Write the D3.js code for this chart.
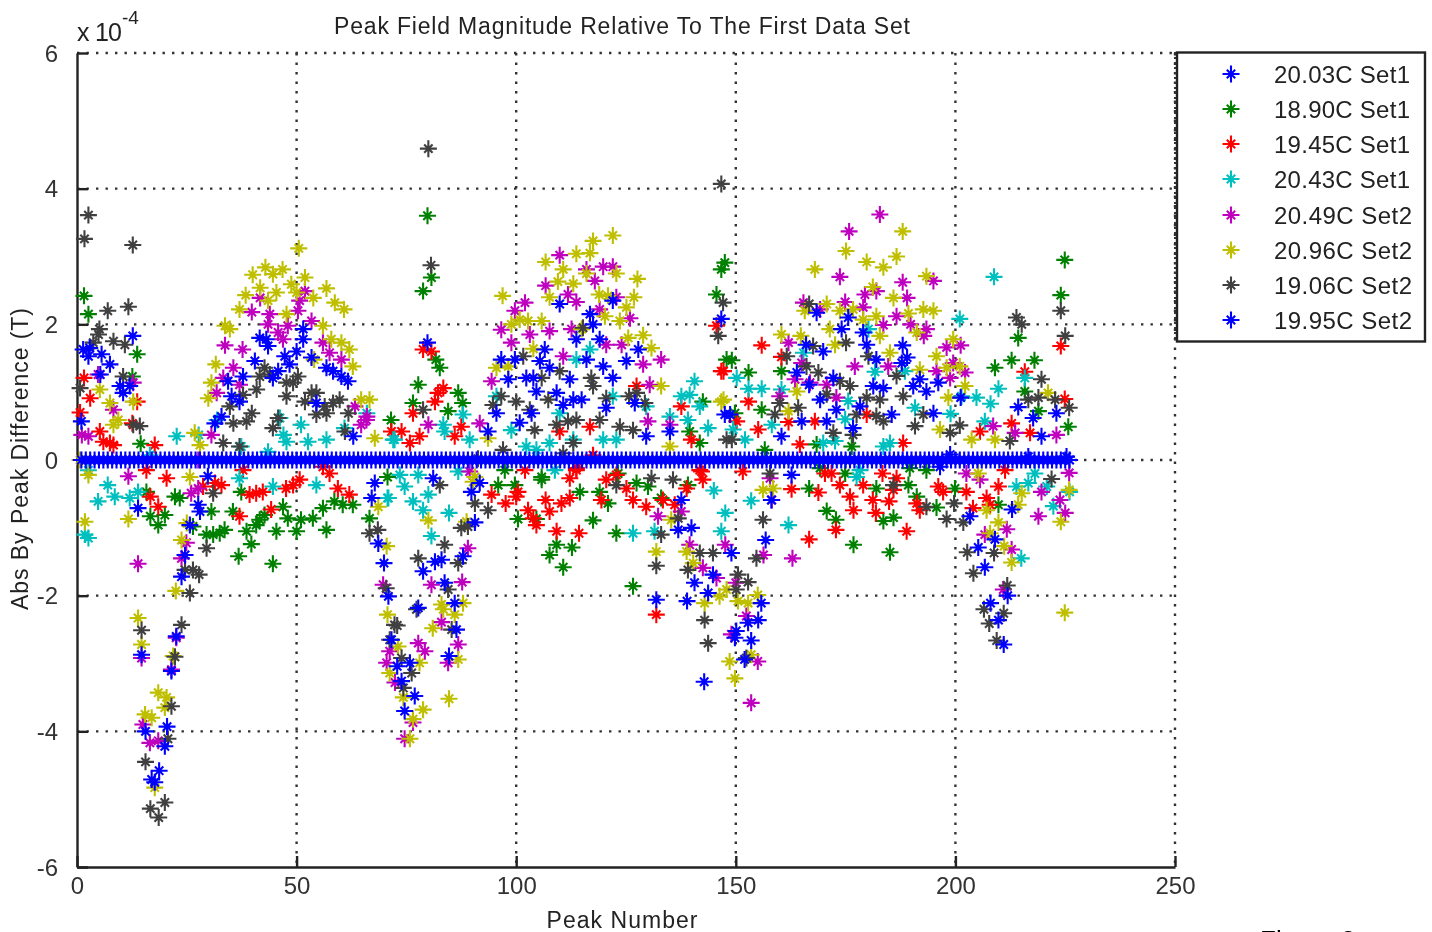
<!DOCTYPE html>
<html><head><meta charset="utf-8">
<script src="https://cdn.jsdelivr.net/npm/d3@7/dist/d3.min.js"></script>
<style>html,body{margin:0;padding:0;background:#fff;overflow:hidden}svg{display:block}text{font-family:"Liberation Sans",Arial,sans-serif;fill:#333}</style>
</head><body><svg id="c" width="1432" height="932"></svg>
<script>
const legendLabels = ["20.03C Set1","18.90C Set1","19.45C Set1","20.43C Set1","20.49C Set2","20.96C Set2","19.06C Set2","19.95C Set2"];
const seriesColors = ["#0000ff","#008000","#ff0000","#00bfbf","#bf00bf","#bfbf00","#404040","#0000ff"];
const xTicks = [0,50,100,150,200,250];
const yTicks = [-6,-4,-2,0,2,4,6];

// 20.03C Set1 is the reference set: zero difference at every peak 1..226
const s1zero = [
0,0,0,0,0,0,0,0,0,0,0,0,0,0,0,0,0,0,0,0,0,0,0,0,0,0,0,0,0,0,0,0,0,0,0,0,0,0,0,0,
0,0,0,0,0,0,0,0,0,0,0,0,0,0,0,0,0,0,0,0,0,0,0,0,0,0,0,0,0,0,0,0,0,0,0,0,0,0,0,0,
0,0,0,0,0,0,0,0,0,0,0,0,0,0,0,0,0,0,0,0,0,0,0,0,0,0,0,0,0,0,0,0,0,0,0,0,0,0,0,0,
0,0,0,0,0,0,0,0,0,0,0,0,0,0,0,0,0,0,0,0,0,0,0,0,0,0,0,0,0,0,0,0,0,0,0,0,0,0,0,0,
0,0,0,0,0,0,0,0,0,0,0,0,0,0,0,0,0,0,0,0,0,0,0,0,0,0,0,0,0,0,0,0,0,0,0,0,0,0,0,0,
0,0,0,0,0,0,0,0,0,0,0,0,0,0,0,0,0,0,0,0,0,0,0,0,0,0];

const s2green = [[1.6,2.42],[2.6,2.15],[13.7,1.56],[12.6,1.23],[14.5,.24],[71.5,.59],[15.8,-.47],[16.7,-.83],[18.5,-.96],[20,-.81],[22.3,-.54],[23.4,-.56],[30.6,-.76],[26.4,-.98],[35.5,-.76],[37.4,-.47],[29.5,-1.1],[31,-1.1],[32.5,-1.08],[33.6,-1.03],[38.6,-1.05],[40.8,-.96],[41.6,-.88],[42.7,-.81],[39.7,-1.24],[36.8,-1.42],[44.6,-1.53],[45.4,-1.05],[46.9,-.69],[48,-.86],[50,-1.05],[51,-.88],[53.7,-.86],[56,-.71],[56.8,-1.03],[58.6,-.61],[60.5,-.66],[62.8,-.66],[66.6,-.86],[70.7,-.25],[79.8,3.6],[80.7,2.69],[78.8,2.49],[77.7,1.11],[76.5,.84],[82.6,1.36],[81.7,1.48],[86.8,.99],[87.8,.84],[84.5,.72],[147.5,2.91],[146.7,2.81],[145.6,2.44],[147.9,1.48],[142.5,.86],[139.5,.42],[141.8,.25],[97.4,-.15],[105.8,-.25],[95.9,-.37],[99.7,-.37],[105.8,-.29],[100.4,-.87],[104.6,-.87],[109.2,-1.25],[107.6,-1.4],[110.7,-1.58],[112.7,-1.29],[117.5,-.89],[114.5,-.47],[119,-.47],[120.9,-.64],[122.8,-1.08],[123.2,-.2],[126.6,-1.86],[127.4,-.34],[130,-.39],[133,-.56],[139.1,-.37],[149.1,1.47],[152.9,1.29],[160.4,1.31],[149.8,.69],[155.9,.74],[209,1.36],[212.8,1.47],[218,1.47],[214.3,1.8],[215.8,1.01],[224.9,2.95],[224,2.43],[225.7,.49],[218.9,.72],[176.4,.2],[168.4,.23],[156.6,.15],[166.7,-.42],[170.7,-.75],[172.8,-.88],[176.8,-1.25],[182,-.42],[183.6,-.9],[185.9,-.85],[185.1,-1.36],[189.3,-.37],[191.2,-.54],[195.7,-.7],[199.9,-.42],[209.8,-.66],[174.9,-.2],[169.2,-.12],[189.6,-.12],[193.4,-.15]];

const s3red = [[1.6,1.21],[.7,.7],[3,.91],[13.7,.86],[12.6,.54],[5.2,.42],[7.5,.25],[6,.27],[8.3,.22],[17.7,.22],[71.6,.42],[15.8,-.15],[20.4,-.27],[16.7,-.54],[18.5,-.69],[28.7,-.39],[31.4,-.34],[32.9,-.37],[37,-.83],[37.8,-.15],[40.8,-.49],[39.3,-.51],[42.3,-.47],[44.2,-.73],[47.6,-.42],[49.2,-.37],[50.7,-.29],[56,-.1],[57.5,-.2],[59.4,-.42],[62,-.51],[78.8,1.63],[80.7,1.6],[83.4,1.06],[82.2,.99],[81.5,.86],[76.5,.69],[73.9,.42],[75.8,.25],[78,.35],[86,.35],[87.5,.49],[116.8,.49],[109.9,.42],[137.6,.79],[139.9,.3],[146.7,1.31],[145.6,1.98],[127.4,1.09],[117.5,.07],[113.7,-.12],[102,-.15],[141.8,-.15],[94.4,-.51],[97.6,-.64],[100.4,-.47],[100,-.54],[102.7,-.74],[103.9,-.86],[104.6,-.96],[106.7,-.59],[107.6,-.76],[110.3,-.64],[112.2,-.56],[109.2,-1.05],[114.3,-1.08],[112.2,-.27],[113.7,-.15],[119.4,-.59],[120.5,-.29],[122.8,-.22],[125.1,-.42],[126.6,-.59],[129.6,-.69],[133.4,-.59],[136.1,-.66],[138.8,-.42],[142.5,-.29],[142.2,-.17],[131.9,-2.28],[151.6,-.17],[155.9,1.69],[160.4,1.52],[152.9,.86],[155.1,.45],[150.2,.57],[147.2,1.31],[162,.56],[168,.57],[164.6,.23],[179.8,.67],[188.1,.25],[215.8,1.3],[224.9,.9],[224,1.68],[212.8,.54],[205.6,.42],[217,.4],[162.7,-.43],[168.8,-.48],[170.3,-.2],[171.8,-.2],[173.7,-.37],[172.8,-1.03],[166.7,-1.17],[176,-.54],[176.8,-.74],[179,-.37],[181.2,-.59],[181.9,-.78],[183.4,-.2],[184.9,-.61],[185.9,-.44],[186.6,-.27],[188.9,-1.05],[191.2,-.64],[191.9,-.74],[196.1,-.39],[197.2,-.47],[202.5,-.47],[207.1,-.56],[207.9,-.66],[209.8,-.39],[211.3,-.15],[204,-.71]];

const s4cyan = [[31.9,.59],[27.7,.37],[22.7,.35],[46.2,.62],[47,.37],[51,.52],[52.6,.27],[56.8,.3],[60.9,.47],[66,.69],[72.3,.3],[16.6,.07],[37.4,.2],[43.5,.12],[47.7,.27],[2.6,-.15],[7,-.37],[4.8,-.61],[8.6,-.54],[12,-.56],[13.9,-.47],[2.6,-1.15],[1.8,-1.1],[37,-.27],[44.6,-.39],[70.7,-.56],[54.5,-.37],[140.6,1.16],[137.6,.94],[139.5,.96],[141.8,.79],[135,.64],[139.1,.59],[143.7,.47],[116.8,1.63],[113.7,1.48],[122,.94],[109.9,.69],[129.6,.79],[83.4,.52],[83.7,.42],[87.9,.67],[95.5,.94],[98.9,.44],[119.8,.3],[122.8,.3],[113,.3],[107.6,.25],[102.3,.2],[104.6,.15],[89.4,.3],[72,.3],[73.5,-.22],[77.7,-.22],[74.6,-.39],[70.9,-.56],[76.5,-.61],[80,-.51],[78.8,-.74],[84.7,-.78],[80.7,-1.12],[86.8,-.17],[108.8,-.15],[145,-.45],[147.6,-.78],[146.7,-1.05],[126.6,-1.08],[131.5,-1.05],[153.5,-.6],[201,2.08],[208.8,2.7],[215.8,1.21],[209.8,1.05],[204.8,.92],[208,.83],[201.4,.94],[198.9,.68],[206.7,.57],[190.8,.77],[188.5,1.31],[181.7,1.3],[150.2,1.21],[152.9,1.05],[155.9,1.05],[160.4,1.04],[158.2,.52],[149.4,.45],[152.1,.3],[165.4,1.58],[175.6,.87],[174.9,.6],[169.9,.25],[172.6,.28],[183.6,.2],[185.1,.25],[180.2,1.93],[162,-.96],[178.3,-.15],[177.5,-.25],[213.9,-.39],[216.6,-.34],[215,-1.45],[220.8,-.39],[222.3,-.68],[226,-.47],[218.1,-.2]];

const s5magenta = [[41.7,2.39],[39.8,2.18],[43.9,2.15],[43.5,2],[45.8,1.88],[48,1.98],[50.3,2.2],[50.7,2.35],[51.9,2.49],[53.4,2.05],[46.9,1.78],[56,1.73],[57.5,1.58],[60.2,1.48],[33.7,1.69],[37.7,1.63],[35.6,1.36],[33.3,1.21],[31.8,.99],[37,1.11],[63.3,.79],[66,.64],[64.7,.52],[30.6,.37],[1.1,.37],[2.6,.35],[4.8,1.26],[12.8,1.14],[8.3,.74],[27.6,0],[11.7,-.24],[13.9,-1.53],[23.8,-1.45],[14.7,-2.92],[22.6,-2.62],[21.5,-3.09],[15,-3.9],[16.6,-4.17],[18.5,-4.14],[24.9,-1.22],[27.6,-.42],[26,-.49],[109.9,3.02],[102,2.32],[99.7,2.2],[96.6,1.92],[103.1,1.85],[98.9,1.73],[107.6,1.9],[106.7,2.57],[116,2.81],[119.8,2.85],[122,2.85],[117.9,2.64],[113.7,2.33],[111.8,2.44],[122.8,2.4],[119,2.22],[125.9,2.09],[112.6,1.93],[120.5,1.7],[124,1.7],[110.7,1.53],[128.9,1.41],[133,1.48],[130.4,1.11],[94.4,1.16],[130,.57],[80,.52],[91.7,.54],[135,.52],[65.9,.59],[89.4,-.17],[89,-1.3],[80.7,-1.84],[87.7,-1.8],[77.7,-2.7],[79.2,-2.82],[83,-2.39],[86.8,-2.72],[84.5,-2.99],[69.7,-1.84],[71.2,-2.82],[70.5,-2.99],[72.4,-3.28],[76.5,-3.87],[74.6,-4.11],[132.3,-.83],[142.5,-1.59],[147.6,-1.25],[145.6,-1.74],[149,-2.57],[152.4,-2.3],[155,-2.97],[153.5,-3.58],[139.5,-1.25],[137.6,-.76],[150,-1.81],[182.8,3.62],[175.8,3.37],[173.7,2.7],[195,2.64],[188,2.62],[189,2.39],[174.9,2.33],[165.4,2.32],[169.2,2.22],[179.4,2.44],[182,2.49],[179,2.25],[186.6,2.12],[183.6,1.99],[189.8,2],[193.4,1.93],[192.8,1.83],[162,1.73],[198,1.66],[201.2,1.69],[177.1,1.38],[165,1.43],[199.5,1.43],[195.7,1.31],[202.2,1.29],[198.8,1.21],[166.9,1.14],[163.5,1.19],[170.7,1.11],[172.9,.92],[160,.94],[208.6,.5],[213.6,.4],[223,.37],[184.7,1.38],[156.3,-1.4],[162.9,-1.45],[158.2,-.59],[157.8,-.27],[218.9,-.83],[223.8,-.59],[225,-.78],[225.9,-.19],[219.6,-.47],[211.7,-1.02],[212.8,-1.32],[206.7,-1.1],[210.9,-1.91],[205.6,-.29],[202.5,-.2]];

const s6olive = [[50.5,3.12],[42.9,2.84],[40,2.73],[46.8,2.81],[44.6,2.74],[41.7,2.54],[38.4,2.43],[45.4,2.47],[48.8,2.59],[51.9,2.69],[50,2.47],[56.8,2.53],[53.8,2.39],[58.7,2.32],[60.8,2.22],[43.5,2.35],[37,2.22],[47.7,2.15],[56,1.98],[33.7,1.98],[34.8,1.93],[57.9,1.78],[60.2,1.73],[62,1.63],[62.8,1.38],[54,1.48],[31.6,1.41],[30.6,1.14],[29.9,.91],[64.7,.89],[66.6,.89],[5.2,1.04],[7.5,.84],[12.8,.86],[9.4,.59],[8.3,.52],[26.8,.4],[28,.22],[67.8,.32],[.7,0],[2.6,-.22],[1.8,-.91],[11.7,-.87],[13.9,-2.33],[14.7,-2.72],[22.5,-1.93],[23.8,-1.18],[25,-.93],[25.7,-.25],[21.9,-2.89],[18.5,-3.43],[20.4,-3.5],[20,-3.65],[15.5,-3.75],[17,-3.8],[17.7,-4.83],[122,3.31],[117.5,3.23],[113.7,3.04],[116.8,3.05],[106.7,2.92],[110.7,2.81],[109.5,2.63],[113,2.6],[116,2.75],[122.8,2.75],[127.6,2.67],[96.9,2.42],[107.6,2.4],[118.9,2.44],[120.9,2.42],[126.8,2.4],[125.1,2.25],[120.2,2.12],[123.6,2.05],[102.7,2.05],[100.8,2.07],[98.9,2],[105.8,2.05],[114.9,1.93],[128.9,1.84],[125.5,1.8],[130.8,1.65],[103.9,1.64],[95.5,1.36],[98.2,1.38],[133,1.09],[146.7,.86],[93.6,.32],[135,.2],[90.6,-.25],[68.6,-.69],[70.5,-1.27],[70.7,-2.28],[73.1,-2.75],[71.2,-3.14],[74.3,-3.5],[78.8,-3.68],[76.5,-3.82],[75.8,-4.11],[80,-.89],[83,-2.13],[83.4,-2.2],[87.9,-2.11],[86,-2.28],[81,-2.48],[78,-2.99],[86.8,-2.94],[84.7,-3.52],[88.7,-.91],[90.2,-.32],[131.9,-1.35],[155,-1.99],[152.8,-2.11],[150.5,-2.08],[148.6,-2.97],[149.8,-3.22],[153.5,-2.87],[147.9,-1.91],[146.3,-2.01],[142.9,-2.11],[138.8,-1.35],[140.3,-1.52],[135.3,-.88],[156.2,-.44],[158.5,-.42],[188,3.37],[175.1,3.08],[186.6,3],[179.8,2.92],[183.6,2.84],[168,2.81],[193.4,2.71],[181.2,2.55],[185.9,2.39],[170.7,2.3],[165.7,2.2],[173.7,2.2],[176.7,2.22],[189.3,2.16],[192.7,2.22],[195,2.2],[182,2.12],[179,2.07],[182.8,1.83],[191.2,1.88],[171.4,1.93],[160.4,1.85],[164.8,1.83],[172.6,1.7],[199.5,1.78],[185.1,1.58],[195.7,1.53],[201,1.38],[191.9,1.33],[198,1.36],[202.2,1.09],[198.4,.92],[163.9,1.01],[162,.72],[196.5,.45],[221.1,.99],[209,.3],[203.7,.3],[147.2,.89],[224.9,-2.25],[225.9,-.44],[224,-.91],[209.8,-.92],[212.8,-1.51],[211.1,-1.27],[215.1,-.49],[214.3,-.66],[207.1,-.74],[207.9,-1.08],[205.2,-.2]];

const s7gray = [[2.6,3.61],[1.7,3.26],[12.7,3.17],[7,2.2],[11.7,2.26],[5.1,1.93],[4.9,1.85],[8.3,1.75],[10.9,1.7],[3.7,1.73],[10.5,1.23],[.7,1.06],[12.8,.52],[14.3,.5],[42.7,1.36],[41.6,1.23],[43.9,1.26],[40.9,1.04],[47.7,1.14],[50.3,1.23],[47.7,.94],[49.2,1.14],[54.5,.99],[51.9,.86],[53.4,.99],[59.8,.89],[58.3,.84],[56.4,.79],[54.5,.67],[56.8,.69],[61.8,.69],[61,.42],[37.8,.96],[34.8,.79],[35.6,.54],[38.6,.57],[39.8,.69],[44.6,.47],[45.8,.62],[33.3,.25],[37,.2],[29.5,-1.3],[31,-.49],[23.8,-2.43],[25.7,-1.96],[26.4,-1.62],[27.8,-1.69],[24.6,-1.62],[14.7,-2.51],[22.3,-2.9],[21.5,-3.63],[20.7,-4.11],[15.6,-4.45],[16.7,-5.14],[20,-5.05],[18.6,-5.27],[66.6,-1.08],[68.5,-1.03],[70.4,-1.89],[72.3,-2.43],[80,4.59],[80.6,2.87],[146.7,4.07],[147.1,2.32],[146,1.83],[115.2,1.95],[101.6,1.53],[105.8,1.21],[109.9,1.31],[117.1,1.21],[117.5,1.09],[120.5,.91],[125.7,.94],[127.4,.99],[129.3,.84],[96.6,.94],[100,.86],[103.1,.74],[107.3,.89],[78.8,.74],[94.7,.81],[109.2,.52],[111.8,.57],[113.7,.59],[119,.59],[123.6,.49],[126.6,.44],[104.2,.44],[113,.25],[147.9,.3],[91.3,.02],[97,.15],[110.7,.1],[82.6,-.37],[90.6,-.64],[93.6,-.74],[87.5,-1],[89,-.98],[83.7,-1.25],[77.7,-1.45],[86.8,-1.52],[84.5,-1.91],[77.3,-2.2],[85.3,-2.5],[72.9,-2.44],[71.2,-2.65],[73.9,-2.92],[76.2,-3.14],[74.3,-3.36],[131.9,-1.56],[133,-1.1],[139.1,-1.62],[141.8,-1.37],[144.8,-1.37],[142.9,-2.36],[143.7,-2.7],[150.5,-1.69],[152.8,-1.8],[150.1,-1.91],[152.4,-2.92],[154.7,-1.45],[156.2,-.88],[122.8,-.37],[130.8,-.27],[135.7,-.29],[136.9,-.86],[166.7,2.3],[213.9,2.1],[215.1,2],[224,2.2],[225,1.83],[167.6,1.68],[161.6,1.53],[166.1,1.38],[168.8,1.29],[173.7,1.16],[176,1.09],[175.1,1.73],[180.2,1.53],[186.6,1.24],[219.6,1.19],[179.8,.92],[182.8,.89],[188.1,.94],[160,.84],[164.2,.77],[170.7,.97],[158.9,.67],[177.5,.67],[182,.65],[183.6,.57],[192.7,.67],[190.8,.5],[201,.51],[198.8,.4],[176.7,.37],[172.2,.4],[149.1,.3],[216.6,.89],[218.9,.92],[222.7,.89],[225.9,.77],[212.4,.28],[185.9,-.37],[193.4,-.69],[199.7,-.64],[198,-.87],[201.8,-.92],[202.7,-1.36],[208.8,-1.37],[204.1,-1.67],[206.5,-2.2],[207.7,-2.41],[211,-2.26],[209.4,-2.66],[211.8,-1.85],[221.9,-.28],[157.8,-.2]];

const s8blue = [[12.7,1.83],[1.4,1.63],[2.9,1.65],[2.6,1.53],[5.6,1.56],[7.5,1.41],[5.3,1.26],[1,.57],[9.8,1.09],[12,1.09],[10.5,.99],[41.6,1.8],[43.5,1.68],[43.1,1.78],[51.5,1.93],[51.5,1.78],[50,1.6],[47.3,1.53],[48.4,1.41],[45.8,1.31],[44.6,1.21],[40.5,1.46],[37.8,1.23],[53.4,1.51],[56.8,1.36],[58.3,1.31],[60.2,1.23],[61.7,1.16],[34.4,1.16],[35.2,.94],[37,.86],[32.9,.64],[31.4,.54],[54.5,.84],[62.9,.35],[13.9,-.71],[24.6,-1.4],[23.8,-1.72],[25.7,-.96],[27.6,-.66],[28,-.76],[22.6,-2.6],[14.7,-2.87],[21.5,-3.11],[15.6,-4],[20.5,-3.93],[20,-4.22],[18.7,-4.58],[17,-4.71],[17.7,-4.75],[29.8,-.24],[79.8,1.73],[129.6,.35],[106.5,1.63],[96.6,1.48],[99.7,1.48],[105.4,1.46],[107.6,1.36],[98.2,1.19],[102.3,1.21],[103.9,1.21],[112.2,1.19],[104.6,1.01],[109.2,.99],[113,.89],[114.9,.89],[110.7,.81],[120.5,.77],[122,1.21],[125.1,1.46],[127.8,1.63],[119.8,1.38],[116,1.48],[119,1.78],[113.7,1.78],[116.8,2.15],[117.5,2],[109.9,2.3],[122,2.35],[127,.84],[103.5,.69],[95.5,.69],[100.8,.55],[93.6,.42],[135,.42],[147.5,.67],[146.7,2.08],[67.8,-.34],[67.1,-.56],[68.6,-1.23],[69.9,-1.52],[70.9,-2.01],[71.6,-2.65],[72.9,-3.04],[75.8,-2.99],[73.9,-3.26],[76.9,-3.48],[74.6,-3.7],[81.5,-1.5],[83,-1.47],[78.8,-1.64],[77.7,-2.18],[83.7,-1.81],[86,-2.11],[86.4,-2.5],[84.7,-2.89],[87.9,-1.42],[90.6,-.92],[89.8,-.47],[81.1,-.27],[91.7,-.34],[137.6,-.59],[136.9,-1.03],[139.9,-1],[149,-1.37],[144.8,-1.69],[140.6,-1.81],[143.7,-1.96],[131.9,-2.06],[138.9,-2.08],[142.8,-3.27],[150.1,-2.52],[149.8,-2.62],[152.8,-2.4],[155.1,-2.36],[153.5,-2.66],[152,-2.94],[155.8,-2.11],[156.8,-1.18],[158.1,-.59],[168.4,2.17],[175.6,2.1],[174.1,1.93],[179,1.88],[179.8,1.7],[188,1.69],[189,1.51],[187.8,1.43],[182,1.48],[166,1.7],[169.9,1.6],[163.9,1.29],[172.2,1.21],[166.7,1.11],[169.2,.89],[172.9,.74],[165,.57],[170.7,.57],[176.7,.47],[160.4,.35],[178.3,.79],[181.3,1.09],[183.6,1.06],[185.5,.67],[191.9,1.19],[190.4,1.09],[193.4,1.01],[196.1,1.14],[195,.69],[201.2,.92],[148.7,.67],[214.3,.78],[217.7,.62],[223,.69],[219.6,.35],[225.3,.05],[198.8,.08],[216.6,.05],[162.7,-.22],[203.3,-.83],[205.2,-1.29],[209,-1.17],[206.7,-1.58],[208,-2.11],[209.8,-2.36],[211.9,-2],[211,-2.72],[212.9,-.73],[196.5,-.1]];

const svg = d3.select("#c");
const defs = svg.append("defs");
defs.append("filter").attr("id","soft").attr("x","-2%").attr("y","-2%").attr("width","104%").attr("height","104%")
  .append("feGaussianBlur").attr("stdDeviation",0.75);
const root = svg.append("g").attr("filter","url(#soft)");

const x = d3.scaleLinear().domain([0,250]).range([77,1175]);
const y = d3.scaleLinear().domain([-6,6]).range([867,53]);

// grid
const gridStyle = s => s.attr("stroke","#333").attr("stroke-width",2.4).attr("stroke-dasharray","2.4 7.1");
root.append("g").selectAll("line").data(xTicks.slice(1)).join("line")
  .attr("x1",d=>x(d)).attr("x2",d=>x(d)).attr("y1",y(6)).attr("y2",y(-6)).call(gridStyle);
root.append("g").selectAll("line").data(yTicks.slice(1)).join("line")
  .attr("x1",x(0)).attr("x2",x(250)).attr("y1",d=>y(d)).attr("y2",d=>y(d)).call(gridStyle);

// axes
const yAxis = d3.axisLeft(y).tickValues(yTicks).tickFormat(String).tickSizeInner(-11).tickSizeOuter(0).tickPadding(19);
const xAxis = d3.axisBottom(x).tickValues(xTicks).tickFormat(String).tickSizeInner(-11).tickSizeOuter(0).tickPadding(21);
const gy = root.append("g").attr("transform",`translate(${x(0)},0)`).call(yAxis);
const gx = root.append("g").attr("transform",`translate(0,${y(-6)})`).call(xAxis);
[gx,gy].forEach(g=>{
  g.selectAll("path,line").attr("stroke","#222").attr("stroke-width",2.4);
  g.selectAll("text").attr("font-size",24).style("font-family",'"Liberation Sans",Arial,sans-serif').attr("fill","#222");
});
gy.selectAll("text").attr("dy","0.34em");
gx.selectAll("text").attr("dy","0.25em");

// star marker
const star = (r,s) => {
  const p = d3.path();
  p.moveTo(-r,0);p.lineTo(r,0);p.moveTo(0,-r);p.lineTo(0,r);
  p.moveTo(-s,-s);p.lineTo(s,s);p.moveTo(-s,s);p.lineTo(s,-s);
  return p.toString();
};
const starPath = star(8.5,4.2);
const s1points = s1zero.map((v,i)=>[i+1,v]);
const allSeries = [s1points,s2green,s3red,s4cyan,s5magenta,s6olive,s7gray,s8blue];
const drawOrder = [1,2,3,4,5,6,7,0];
const plot = root.append("g");
drawOrder.forEach(k=>{
  plot.append("g").attr("fill","none").attr("stroke",seriesColors[k]).attr("stroke-width",2.1)
    .selectAll("path").data(allSeries[k]).join("path")
    .attr("d",starPath)
    .attr("transform",d=>`translate(${x(d[0])},${y(d[1])})`);
});

// legend
const rowY = [74,109,144,179,215,250,285,320];
const lg = root.append("g");
lg.append("rect").attr("x",1177).attr("y",52.5).attr("width",248).attr("height",289)
  .attr("fill","#fff").attr("stroke","#222").attr("stroke-width",2.4);
lg.append("line").attr("x1",1175).attr("x2",1175).attr("y1",52).attr("y2",342)
  .attr("stroke","#333").attr("stroke-width",2).attr("stroke-dasharray","2 3");
legendLabels.forEach((t,i)=>{
  lg.append("path").attr("d",starPath).attr("transform",`translate(1231,${rowY[i]})`)
    .attr("fill","none").attr("stroke",seriesColors[i]).attr("stroke-width",2.1);
  lg.append("text").attr("x",1274).attr("y",rowY[i]+9).attr("font-size",24)
    .attr("textLength",i<4?136:138).attr("lengthAdjust","spacing").style("fill","#222").text(t);
});

// titles
const label = (t,xp,yp,size,len) => root.append("text").attr("x",xp).attr("y",yp).attr("font-size",size)
   .attr("text-anchor","middle").attr("textLength",len).attr("lengthAdjust","spacing").style("fill","#222").text(t);
label("Peak Field Magnitude Relative To The First Data Set",622,34,23,576);
label("Peak Number",622,928,23,151);
root.append("text").attr("transform","translate(28,459) rotate(-90)").attr("text-anchor","middle").style("fill","#222")
  .attr("font-size",23).attr("textLength",302).attr("lengthAdjust","spacing").text("Abs By Peak Difference (T)");
root.append("text").attr("x",77).attr("y",41).attr("font-size",25).attr("textLength",45).style("fill","#222").text("x 10");
root.append("text").attr("x",122).attr("y",24).attr("font-size",19).style("fill","#222").text("-4");
root.append("text").attr("x",1260).attr("y",949).attr("font-size",26).style("fill","#000").text("Figure 3");
</script></body></html>
